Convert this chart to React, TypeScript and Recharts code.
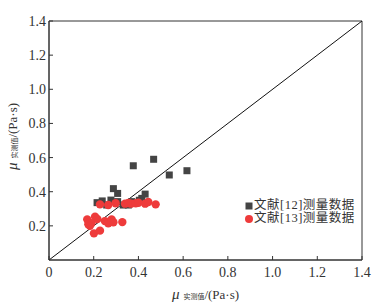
import React from "react";
import {
  ScatterChart,
  Scatter,
  XAxis,
  YAxis,
  ReferenceLine,
  ReferenceArea,
  Legend,
  Label,
} from "recharts";

// 文献[12] measured vs calculated
const lit12X = [0.215, 0.238, 0.258, 0.277, 0.288, 0.307, 0.307, 0.332, 0.355, 0.37, 0.404, 0.415, 0.43, 0.377, 0.468, 0.538, 0.617];
const lit12Y = [0.336, 0.346, 0.322, 0.351, 0.418, 0.39, 0.342, 0.322, 0.322, 0.342, 0.35, 0.361, 0.386, 0.552, 0.59, 0.498, 0.523];

// 文献[13]
const lit13X = [
  0.228, 0.265, 0.298, 0.34, 0.355, 0.367, 0.388, 0.4, 0.43, 0.444, 0.477,
  0.171, 0.206, 0.216, 0.176, 0.19, 0.183, 0.201, 0.228, 0.25, 0.265, 0.28, 0.288, 0.328,
];
const lit13Y = [
  0.326, 0.322, 0.332, 0.33, 0.334, 0.33, 0.332, 0.335, 0.33, 0.34, 0.326,
  0.238, 0.254, 0.24, 0.209, 0.215, 0.2, 0.156, 0.172, 0.228, 0.215, 0.238, 0.221, 0.222,
];

const xTicks = [0, 0.2, 0.4, 0.6, 0.8, 1.0, 1.2, 1.4];
const yTicks = [0.2, 0.4, 0.6, 0.8, 1.0, 1.2, 1.4];
const seriesNames = ["文献[12]测量数据", "文献[13]测量数据"];

const lit12 = lit12X.map((x, i) => ({ x, y: lit12Y[i] }));
const lit13 = lit13X.map((x, i) => ({ x, y: lit13Y[i] }));

const FONT = "'Liberation Serif', 'Times New Roman', 'DejaVu Serif', 'Noto Sans CJK SC', serif";
const TEXT = "#333";
const SQUARE = "#444";
const RED = "#ee3b3b";

const Square = (props: any) => (
  <rect x={props.cx - 3.5} y={props.cy - 3.5} width={7} height={7} fill={SQUARE} />
);
const Dot = (props: any) => <circle cx={props.cx} cy={props.cy} r={4.2} fill={RED} />;

const AxisTitle = () => (
  <>
    <tspan fontStyle="italic" fontSize={15}>μ</tspan>
    <tspan fontSize={7} dx={4}>实测值</tspan>
    <tspan fontSize={13}>/(Pa·s)</tspan>
  </>
);

const XTitle = (props: any) => {
  const vb = props.viewBox;
  const cx = vb.x + vb.width / 2;
  return (
    <text x={cx} y={vb.y + 39} textAnchor="middle" style={{ fontFamily: FONT }} fill={TEXT}>
      <AxisTitle />
    </text>
  );
};

const YTitle = (props: any) => {
  const vb = props.viewBox;
  const x = 17;
  const y = vb.y + vb.height / 2 - 4;
  return (
    <text
      x={x}
      y={y}
      textAnchor="middle"
      style={{ fontFamily: FONT }}
      fill={TEXT}
      transform={`rotate(-90, ${x}, ${y})`}
    >
      <AxisTitle />
    </text>
  );
};

const renderLegend = () => (
  <div style={{ fontFamily: FONT, fontSize: 12.5, color: TEXT, lineHeight: "13px" }}>
    {seriesNames.map((name, i) => (
      <div key={name} style={{ display: "flex", alignItems: "center", whiteSpace: "nowrap", height: 13 }}>
        <svg width={8} height={8} style={{ marginRight: 1 }}>
          {i === 0 ? (
            <rect x={0.5} y={0.5} width={7} height={7} fill={SQUARE} />
          ) : (
            <circle cx={4} cy={4} r={4} fill={RED} />
          )}
        </svg>
        <span style={{ letterSpacing: 0.5 }}>{name}</span>
      </div>
    ))}
  </div>
);

export default function App() {
  const tick = { fontSize: 14, fill: TEXT, style: { fontFamily: FONT } };
  return (
    <div style={{ position: "absolute", left: 0, top: 0, background: "#fff", fontFamily: FONT }}>
      <ScatterChart width={383} height={304} margin={{ top: 21, right: 21, bottom: 14, left: 0 }}>
        <XAxis
          type="number"
          dataKey="x"
          domain={[0, 1.4]}
          ticks={xTicks}
          tickFormatter={(v: number) => (v === 0 ? "0" : v.toFixed(1))}
          allowDataOverflow
          height={30}
          tick={tick}
          tickSize={-4}
          tickMargin={11}
          axisLine={{ stroke: "#333" }}
          tickLine={{ stroke: "#333" }}
        >
          <Label content={<XTitle />} />
        </XAxis>
        <YAxis
          type="number"
          dataKey="y"
          domain={[0, 1.4]}
          ticks={yTicks}
          tickFormatter={(v: number) => v.toFixed(1)}
          allowDataOverflow
          width={49}
          tick={tick}
          tickSize={-4}
          tickMargin={7}
          axisLine={{ stroke: "#333" }}
          tickLine={{ stroke: "#333" }}
        >
          <Label content={<YTitle />} />
        </YAxis>
        <ReferenceArea x1={0} x2={1.4} y1={0} y2={1.4} fill="none" stroke="#333" strokeWidth={1} ifOverflow="visible" />
        <ReferenceLine
          segment={[
            { x: 0, y: 0 },
            { x: 1.4, y: 1.4 },
          ]}
          stroke="#111"
          strokeWidth={1}
        />
        <Legend
          layout="vertical"
          align="center"
          verticalAlign="middle"
          content={renderLegend}
          wrapperStyle={{ left: 245, top: 199, width: 120 }}
        />
        <Scatter name={seriesNames[0]} data={lit12} shape={<Square />} isAnimationActive={false} />
        <Scatter name={seriesNames[1]} data={lit13} shape={<Dot />} isAnimationActive={false} />
      </ScatterChart>
    </div>
  );
}
